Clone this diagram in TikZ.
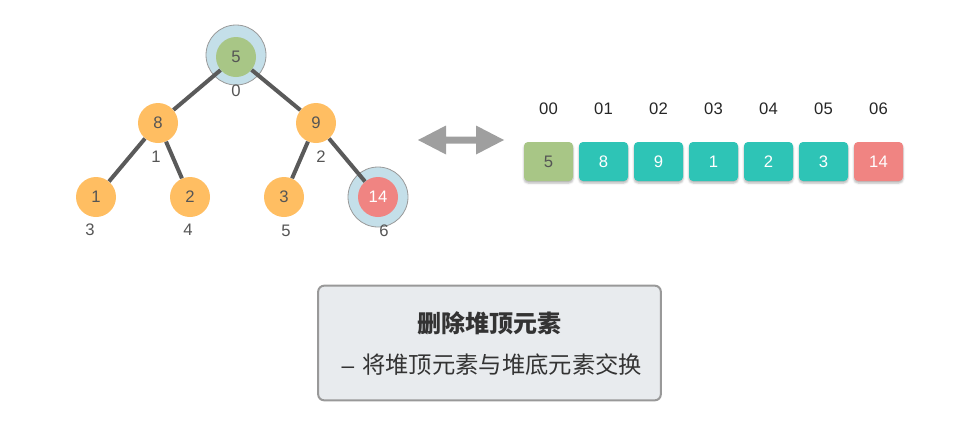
\documentclass[tikz,border=0pt]{standalone}
\usepackage{fontspec}
\setmainfont{Liberation Sans}
\newfontfamily\cjk{Noto Sans CJK SC}
\usetikzlibrary{shadows.blur}
\definecolor{orangeN}{HTML}{FFBE62}
\definecolor{greenN}{HTML}{A8C686}
\definecolor{tealN}{HTML}{2EC4B6}
\definecolor{redN}{HTML}{F08482}
\definecolor{haloN}{HTML}{C4DFE9}
\definecolor{edgeN}{HTML}{5A5A5A}
\definecolor{txtN}{HTML}{555555}
\definecolor{boxN}{HTML}{E8EBEE}
\tikzset{
  tnode/.style={circle, minimum size=30pt, inner sep=0pt, fill=orangeN, text=txtN, font=\fontsize{12.5pt}{14pt}\selectfont},
  halo/.style={circle, minimum size=45pt, inner sep=0pt, fill=haloN, draw=gray!80, line width=0.6pt},
  idx/.style={text=txtN, font=\fontsize{12.5pt}{14pt}\selectfont, inner sep=0pt},
  edge/.style={draw=edgeN, line width=3pt},
  cell/.style={rounded corners=3pt, minimum width=36.75pt, minimum height=29.25pt, inner sep=0pt, font=\fontsize{12.5pt}{14pt}\selectfont, text=white, blur shadow={shadow xshift=0pt, shadow yshift=-1.5pt, shadow blur radius=1.5pt, shadow opacity=30}},
  aidx/.style={text=black!85, font=\fontsize{12.5pt}{14pt}\selectfont, inner sep=0pt}
}
\begin{document}
\begin{tikzpicture}[x=0.75pt,y=-0.75pt]
\useasboundingbox (0,0) rectangle (980,443);
% halos
\node[halo] (h0) at (236,55) {};
\node[halo] (h6) at (378,197) {};
% tree nodes
\node[tnode, fill=greenN] (n0) at (236,57) {5};
\node[tnode] (n1) at (158,123) {8};
\node[tnode] (n2) at (316,123) {9};
\node[tnode] (n3) at (96,197) {1};
\node[tnode] (n4) at (190,197) {2};
\node[tnode] (n5) at (284,197) {3};
\node[tnode, fill=redN, text=white] (n6) at (378,197) {14};
% edges
\draw[edge] (n0) -- (n1);
\draw[edge] (n0) -- (n2);
\draw[edge] (n1) -- (n3);
\draw[edge] (n1) -- (n4);
\draw[edge] (n2) -- (n5);
\draw[edge] (n2) -- (n6);
% index labels
\node[idx] (l0) at (236,91) {0};
\node[idx] (l1) at (156,157) {1};
\node[idx] (l2) at (321,157) {2};
\node[idx] (l3) at (90,230) {3};
\node[idx] (l4) at (188,230) {4};
\node[idx] (l5) at (286,231) {5};
\node[idx] (l6) at (384,231) {6};
% double arrow
\fill[gray!75] (418,140) -- (446,125.5) -- (446,136.5) -- (476,136.5) -- (476,125.5) -- (504,140)
  -- (476,154.5) -- (476,143.5) -- (446,143.5) -- (446,154.5) -- cycle;
% array
\node[cell, fill=greenN, text=txtN] (c0) at (548.5,161.5) {5};
\node[cell, fill=tealN] (c1) at (603.5,161.5) {8};
\node[cell, fill=tealN] (c2) at (658.5,161.5) {9};
\node[cell, fill=tealN] (c3) at (713.5,161.5) {1};
\node[cell, fill=tealN] (c4) at (768.5,161.5) {2};
\node[cell, fill=tealN] (c5) at (823.5,161.5) {3};
\node[cell, fill=redN] (c6) at (878.5,161.5) {14};
\node[aidx] (a0) at (548.5,109) {00};
\node[aidx] (a1) at (603.5,109) {01};
\node[aidx] (a2) at (658.5,109) {02};
\node[aidx] (a3) at (713.5,109) {03};
\node[aidx] (a4) at (768.5,109) {04};
\node[aidx] (a5) at (823.5,109) {05};
\node[aidx] (a6) at (878.5,109) {06};
% description box
\node[draw=gray!80, line width=1.5pt, fill=boxN, rounded corners=4.5pt, minimum width=257pt, minimum height=86pt, inner sep=0pt] (desc) at (489.5,343) {};
\node[text=black!80, font=\cjk\bfseries\fontsize{18pt}{20pt}\selectfont, inner sep=0pt] (t1) at (489,323) {删除堆顶元素};
\node[text=black!80, font=\cjk\fontsize{17.5pt}{20pt}\selectfont, inner sep=0pt] (t2) at (492,365) {{\rmfamily\fontsize{17pt}{20pt}\selectfont –}\hspace{6pt}将堆顶元素与堆底元素交换};
\end{tikzpicture}
\end{document}
